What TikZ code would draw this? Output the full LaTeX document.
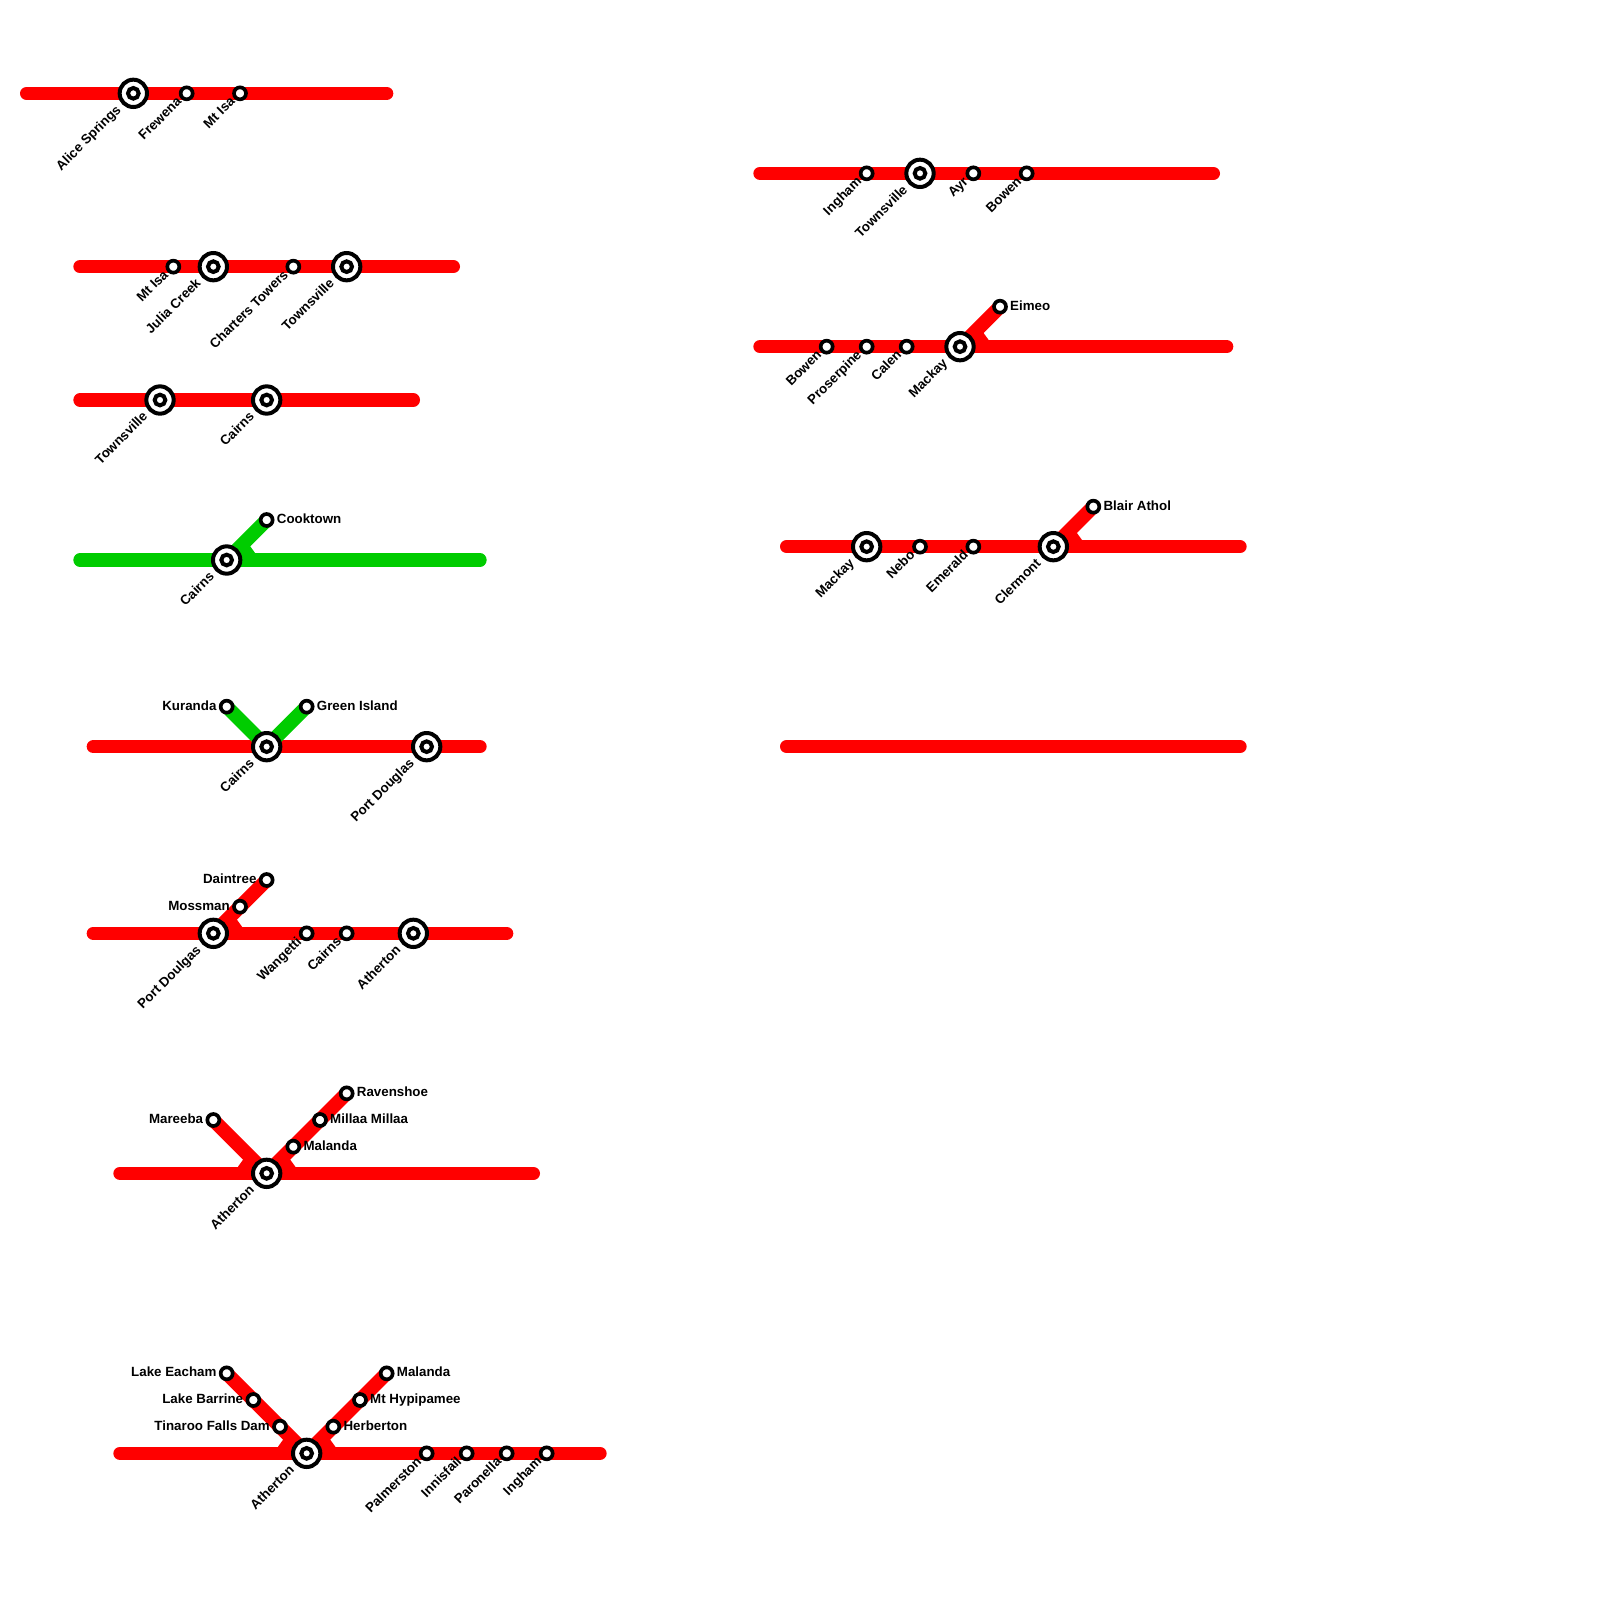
\documentclass[tikz,border=0pt]{standalone}
\usepackage{fontspec}
\setmainfont{Liberation Sans}
\pgfdeclarelayer{edgelayer}
\pgfdeclarelayer{nodelayer}
\pgfsetlayers{edgelayer,nodelayer,main}
\definecolor{linered}{RGB}{255,0,0}
\definecolor{linegreen}{RGB}{0,204,0}
\tikzstyle{redline}=[draw=linered, line width=0.4cm, line cap=round]
\tikzstyle{greenline}=[draw=linegreen, line width=0.4cm, line cap=round]
\tikzstyle{redbranch}=[draw=linered, line width=0.42cm]
\tikzstyle{greenbranch}=[draw=linegreen, line width=0.42cm]
\tikzstyle{halt}=[circle, fill=white, draw=black, line width=0.11cm, minimum size=0.36cm, inner sep=0pt]
\tikzstyle{interchange}=[circle, fill=white, draw=black, line width=0.12cm, minimum size=0.82cm, inner sep=0pt, path picture={\draw [line width=0.12cm] (path picture bounding box.center) circle (0.16cm);}]
\tikzstyle{stationtext}=[inner sep=0pt, font=\fontsize{11.38}{13}\selectfont\bfseries]
\tikzstyle{textleft}=[style=stationtext, anchor=base east, xshift=-0.30cm, yshift=-0.10cm]
\tikzstyle{textright}=[style=stationtext, anchor=base west, xshift=0.30cm, yshift=-0.10cm]
\tikzstyle{haltdown}=[style=stationtext, anchor=base east, xshift=-0.13cm, yshift=-0.27cm, rotate=45]
\tikzstyle{interdown}=[style=stationtext, anchor=base east, xshift=-0.35cm, yshift=-0.52cm, rotate=45]
\newcommand{\joinright}[2]{\fill [#2] ([shift={(1.2,0)}]#1.center) -- ++(0,-0.5) -- ++(0.55,-0.55) -- ++(0.4,0.55) -- ++(0,0.5) -- cycle;}
\newcommand{\joinleft}[2]{\fill [#2] ([shift={(-1.2,0)}]#1.center) -- ++(0,-0.5) -- ++(-0.55,-0.55) -- ++(-0.4,0.55) -- ++(0,0.5) -- cycle;}

\begin{document}
\begin{tikzpicture}[x=0.4cm, y=-0.4cm]
	\useasboundingbox (0, 0) rectangle (120, 120);
	\begin{pgfonlayer}{nodelayer}
		\coordinate (a1) at (2, 7);
		\coordinate (a2) at (29, 7);
		\node [style=interchange] (1) at (10, 7) {};
		\node [style=halt] (2) at (14, 7) {};
		\node [style=halt] (3) at (18, 7) {};
		\node [style=interdown] (t1) at (1) {Alice Springs};
		\node [style=haltdown] (t2) at (2) {Frewena};
		\node [style=haltdown] (t3) at (3) {Mt Isa};

		\coordinate (b1) at (6, 20);
		\coordinate (b2) at (34, 20);
		\node [style=halt] (4) at (13, 20) {};
		\node [style=interchange] (5) at (16, 20) {};
		\node [style=halt] (6) at (22, 20) {};
		\node [style=interchange] (7) at (26, 20) {};
		\node [style=haltdown] (t4) at (4) {Mt Isa};
		\node [style=interdown] (t5) at (5) {Julia Creek};
		\node [style=haltdown] (t6) at (6) {Charters Towers};
		\node [style=interdown] (t7) at (7) {Townsville};

		\coordinate (c1) at (6, 30);
		\coordinate (c2) at (31, 30);
		\node [style=interchange] (8) at (12, 30) {};
		\node [style=interchange] (9) at (20, 30) {};
		\node [style=interdown] (t8) at (8) {Townsville};
		\node [style=interdown] (t9) at (9) {Cairns};

		\coordinate (d1) at (6, 42);
		\coordinate (d2) at (36, 42);
		\node [style=interchange] (10) at (17, 42) {};
		\node [style=halt] (11) at (20, 39) {};
		\node [style=interdown] (t10) at (10) {Cairns};
		\node [style=textright] (t11) at (11) {Cooktown};

		\coordinate (e1) at (7, 56);
		\coordinate (e2) at (36, 56);
		\node [style=interchange] (12) at (20, 56) {};
		\node [style=halt] (13) at (17, 53) {};
		\node [style=halt] (14) at (23, 53) {};
		\node [style=interchange] (15) at (32, 56) {};
		\node [style=interdown] (t12) at (12) {Cairns};
		\node [style=textleft] (t13) at (13) {Kuranda};
		\node [style=textright] (t14) at (14) {Green Island};
		\node [style=interdown] (t15) at (15) {Port Douglas};

		\coordinate (f1) at (7, 70);
		\coordinate (f2) at (38, 70);
		\node [style=interchange] (16) at (16, 70) {};
		\node [style=halt] (17) at (18, 68) {};
		\node [style=halt] (18) at (20, 66) {};
		\node [style=halt] (19) at (23, 70) {};
		\node [style=halt] (20) at (26, 70) {};
		\node [style=interchange] (21) at (31, 70) {};
		\node [style=interdown] (t16) at (16) {Port Doulgas};
		\node [style=textleft] (t17) at (17) {Mossman};
		\node [style=textleft] (t18) at (18) {Daintree};
		\node [style=haltdown] (t19) at (19) {Wangetti};
		\node [style=haltdown] (t20) at (20) {Cairns};
		\node [style=interdown] (t21) at (21) {Atherton};

		\coordinate (g1) at (9, 88);
		\coordinate (g2) at (40, 88);
		\node [style=interchange] (22) at (20, 88) {};
		\node [style=halt] (23) at (16, 84) {};
		\node [style=halt] (24) at (22, 86) {};
		\node [style=halt] (25) at (24, 84) {};
		\node [style=halt] (26) at (26, 82) {};
		\node [style=interdown] (t22) at (22) {Atherton};
		\node [style=textleft] (t23) at (23) {Mareeba};
		\node [style=textright] (t24) at (24) {Malanda};
		\node [style=textright] (t25) at (25) {Millaa Millaa};
		\node [style=textright] (t26) at (26) {Ravenshoe};

		\coordinate (h1) at (9, 109);
		\coordinate (h2) at (45, 109);
		\node [style=interchange] (27) at (23, 109) {};
		\node [style=halt] (28) at (17, 103) {};
		\node [style=halt] (29) at (19, 105) {};
		\node [style=halt] (30) at (21, 107) {};
		\node [style=halt] (31) at (25, 107) {};
		\node [style=halt] (32) at (27, 105) {};
		\node [style=halt] (33) at (29, 103) {};
		\node [style=halt] (34) at (32, 109) {};
		\node [style=halt] (35) at (35, 109) {};
		\node [style=halt] (36) at (38, 109) {};
		\node [style=halt] (37) at (41, 109) {};
		\node [style=interdown] (t27) at (27) {Atherton};
		\node [style=textleft] (t28) at (28) {Lake Eacham};
		\node [style=textleft] (t29) at (29) {Lake Barrine};
		\node [style=textleft] (t30) at (30) {Tinaroo Falls Dam};
		\node [style=textright] (t31) at (31) {Herberton};
		\node [style=textright] (t32) at (32) {Mt Hypipamee};
		\node [style=textright] (t33) at (33) {Malanda};
		\node [style=haltdown] (t34) at (34) {Palmerston};
		\node [style=haltdown] (t35) at (35) {Innisfail};
		\node [style=haltdown] (t36) at (36) {Paronella};
		\node [style=haltdown] (t37) at (37) {Ingham};

		\coordinate (i1) at (57, 13);
		\coordinate (i2) at (91, 13);
		\node [style=halt] (38) at (65, 13) {};
		\node [style=interchange] (39) at (69, 13) {};
		\node [style=halt] (40) at (73, 13) {};
		\node [style=halt] (41) at (77, 13) {};
		\node [style=haltdown] (t38) at (38) {Ingham};
		\node [style=interdown] (t39) at (39) {Townsville};
		\node [style=haltdown] (t40) at (40) {Ayr};
		\node [style=haltdown] (t41) at (41) {Bowen};

		\coordinate (j1) at (57, 26);
		\coordinate (j2) at (92, 26);
		\node [style=halt] (42) at (62, 26) {};
		\node [style=halt] (43) at (65, 26) {};
		\node [style=halt] (44) at (68, 26) {};
		\node [style=interchange] (45) at (72, 26) {};
		\node [style=halt] (46) at (75, 23) {};
		\node [style=haltdown] (t42) at (42) {Bowen};
		\node [style=haltdown] (t43) at (43) {Proserpine};
		\node [style=haltdown] (t44) at (44) {Calen};
		\node [style=interdown] (t45) at (45) {Mackay};
		\node [style=textright] (t46) at (46) {Eimeo};

		\coordinate (k1) at (59, 41);
		\coordinate (k2) at (93, 41);
		\node [style=interchange] (47) at (65, 41) {};
		\node [style=halt] (48) at (69, 41) {};
		\node [style=halt] (49) at (73, 41) {};
		\node [style=interchange] (50) at (79, 41) {};
		\node [style=halt] (51) at (82, 38) {};
		\node [style=interdown] (t47) at (47) {Mackay};
		\node [style=haltdown] (t48) at (48) {Nebo};
		\node [style=haltdown] (t49) at (49) {Emerald};
		\node [style=interdown] (t50) at (50) {Clermont};
		\node [style=textright] (t51) at (51) {Blair Athol};

		\coordinate (m1) at (59, 56);
		\coordinate (m2) at (93, 56);
	\end{pgfonlayer}
	\begin{pgfonlayer}{edgelayer}
		\draw [style=redline] (a1) to (a2);
		\draw [style=redline] (b1) to (b2);
		\draw [style=redline] (c1) to (c2);
		\draw [style=greenline] (d1) to (d2);
		\draw [style=greenbranch] (10.center) to (11.center);
		\joinright{10}{linegreen}
		\draw [style=redline] (e1) to (e2);
		\draw [style=greenbranch] (12.center) to (13.center);
		\draw [style=greenbranch] (12.center) to (14.center);
		\draw [style=redline] (f1) to (f2);
		\draw [style=redbranch] (16.center) to (18.center);
		\joinright{16}{linered}
		\draw [style=redline] (g1) to (g2);
		\draw [style=redbranch] (22.center) to (23.center);
		\draw [style=redbranch] (22.center) to (26.center);
		\joinleft{22}{linered}
		\joinright{22}{linered}
		\draw [style=redline] (h1) to (h2);
		\draw [style=redbranch] (27.center) to (28.center);
		\draw [style=redbranch] (27.center) to (33.center);
		\joinleft{27}{linered}
		\joinright{27}{linered}
		\draw [style=redline] (i1) to (i2);
		\draw [style=redline] (j1) to (j2);
		\draw [style=redbranch] (45.center) to (46.center);
		\joinright{45}{linered}
		\draw [style=redline] (k1) to (k2);
		\draw [style=redbranch] (50.center) to (51.center);
		\joinright{50}{linered}
		\draw [style=redline] (m1) to (m2);
	\end{pgfonlayer}
\end{tikzpicture}
\end{document}
